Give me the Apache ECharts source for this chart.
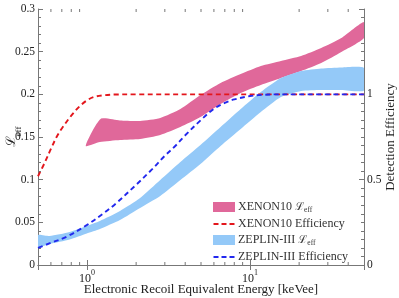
<!DOCTYPE html>
<html><head><meta charset="utf-8">
<script src="https://cdn.jsdelivr.net/npm/echarts@6/dist/echarts.min.js"></script>
<style>html,body{margin:0;padding:0;background:#fff}#c{width:399px;height:298px}</style>
</head><body><div id="c"></div>
<script>
// ---- data ----
const xenonEffE = [0.5, 0.55, 0.6, 0.65, 0.7, 0.8, 0.9, 1.0, 1.1, 1.25, 1.5, 2, 5, 20, 50];
const xenonEff  = [0.52, 0.60, 0.68, 0.75, 0.80, 0.875, 0.93, 0.965, 0.984, 0.994, 0.999, 1, 1, 1, 1];

const zeplinEffE = [0.5, 0.6, 0.75, 1.0, 1.25, 1.5, 2.0, 2.5, 3.0, 3.5, 4.0, 5.0, 6.0, 7.0, 8.0, 10, 12, 15, 20, 50];
const zeplinEff  = [0.10, 0.13, 0.166, 0.235, 0.30, 0.36, 0.47, 0.56, 0.64, 0.70, 0.76, 0.85, 0.915, 0.95, 0.97, 0.99, 0.997, 1, 1, 1];

// XENON10 Leff band edges [E (keVee), Leff]
const xenonUpper = [[1.21,0.1711],[1.592,0.1693],[2.115,0.1688],[2.811,0.1723],[3.735,0.1828],[4.963,0.1992],[6.594,0.2133],[8.762,0.2238],[11.64,0.2332],[15.47,0.2391],[20.56,0.2449],[27.32,0.2543],[36.3,0.2660],[50,0.2848]];
const xenonLower = [[0.982,0.1395],[1.198,0.1441],[1.592,0.1465],[2.115,0.1477],[2.811,0.1524],[3.735,0.1617],[4.963,0.1734],[6.594,0.1887],[8.762,0.2016],[11.64,0.2109],[15.47,0.2191],[20.56,0.2273],[27.32,0.2367],[36.3,0.2496],[50,0.2660]];

// ZEPLIN-III Leff band edges
const zeplinUpper = [[0.5,0.0352],[0.5886,0.0340],[0.782,0.0387],[0.996,0.0457],[1.198,0.0516],[1.592,0.0633],[2.115,0.0785],[2.811,0.0996],[3.735,0.1207],[4.963,0.1406],[6.594,0.1617],[8.762,0.1828],[11.64,0.2027],[15.47,0.2191],[20.56,0.2273],[27.32,0.2303],[36.3,0.2315],[50,0.2309]];
const zeplinLower = [[0.5,0.0211],[0.5886,0.0246],[0.782,0.0299],[0.996,0.0369],[1.198,0.0422],[1.592,0.0527],[2.115,0.0668],[2.811,0.0809],[3.735,0.0996],[4.963,0.1184],[6.594,0.1395],[8.762,0.1594],[11.64,0.1793],[15.47,0.1969],[20.56,0.2039],[27.32,0.2051],[36.3,0.2051],[50,0.2045]];

const xMinorTicks = [0.6,0.7,0.8,0.9,2,3,4,5,6,7,8,9,20,30,40];

// ---- chart ----
const SERIF = "'Liberation Serif','DejaVu Serif',serif";
const AX = '#777';
const TXT = '#222';
const PINK = '#e0689a', LBLUE = '#94c9f8', RED = '#e3161c', BLUE = '#2228ee';
const DASH_ICON = 'path://M0,0h0.01v0.01h-0.01z M0,4.1h5v1.8h-5z M8,4.1h5v1.8h-5z M16,4.1h5v1.8h-5z M0,10h0.01v-0.01h-0.01z';

function band(name, upper, lower, color) {
  const pts = upper.concat(lower.slice().reverse());
  return {
    name: name, type: 'custom', xAxisIndex: 0, yAxisIndex: 0, clip: true, z: 2,
    itemStyle: {color: color},
    data: [pts[0]],
    renderItem: function (params, api) {
      return {type: 'polygon', shape: {points: pts.map(p => api.coord(p)), smooth: 0.2}, style: {fill: color}};
    }
  };
}
function effLine(name, xs, ys, color) {
  return {
    name: name, type: 'line', xAxisIndex: 0, yAxisIndex: 1, z: 5,
    data: xs.map((x, i) => [x, ys[i]]),
    showSymbol: false, symbol: 'none', smooth: 0.35,
    itemStyle: {color: color},
    lineStyle: {color: color, width: 1.9, type: [5, 3.5]}
  };
}
const supRich = {
  b: {fontFamily: SERIF, fontSize: 12, color: TXT, lineHeight: 16, verticalAlign: 'bottom'},
  s: {fontFamily: SERIF, fontSize: 8, color: TXT, verticalAlign: 'top', lineHeight: 16}
};

const chart = echarts.init(document.getElementById('c'));
chart.setOption({
  animation: false,
  backgroundColor: '#fff',
  grid: {left: 38, right: 35, top: 9, bottom: 33, containLabel: false, outerBoundsMode: 'none'},
  xAxis: [{
    type: 'log', logBase: 10, min: 0.5, max: 50, position: 'bottom',
    axisLine: {show: true, lineStyle: {color: AX, width: 1}},
    axisTick: {show: true, inside: true, length: 5, lineStyle: {color: AX}},
    minorTick: {show: false}, splitLine: {show: false},
    axisLabel: {
      margin: 4, color: TXT,
      formatter: function (v) {
        if (Math.abs(v - 1) < 1e-6) return '{b|10}{s|0}';
        if (Math.abs(v - 10) < 1e-5) return '{b|10}{s|1}';
        return '';
      },
      rich: supRich
    },
    name: 'Electronic Recoil Equivalent Energy [keVee]', nameLocation: 'middle', nameGap: 18,
    nameMoveOverlap: false,
    nameTextStyle: {fontFamily: SERIF, fontSize: 13, color: TXT}
  }, {
    type: 'log', logBase: 10, min: 0.5, max: 50, position: 'top',
    axisLine: {show: true, lineStyle: {color: AX, width: 1}},
    axisTick: {show: true, inside: true, length: 5, lineStyle: {color: AX}},
    axisLabel: {show: false}, splitLine: {show: false}
  }],
  yAxis: [{
    type: 'value', min: 0, max: 0.3, interval: 0.05, position: 'left',
    axisLine: {show: true, lineStyle: {color: AX, width: 1}},
    axisTick: {show: true, inside: true, length: 5, lineStyle: {color: AX}},
    minorTick: {show: true, splitNumber: 5, length: 3, lineStyle: {color: AX}},
    splitLine: {show: false},
    axisLabel: {fontFamily: SERIF, fontSize: 11.5, color: TXT, margin: 3},
    name: '{l|ℒ}{s|eff}', nameLocation: 'middle', nameRotate: 90, nameGap: 15,
    nameMoveOverlap: false,
    nameTextStyle: {
      rich: {
        l: {fontFamily: "'DejaVu Serif',serif", fontSize: 13, color: TXT, lineHeight: 18, verticalAlign: 'top'},
        s: {fontFamily: SERIF, fontSize: 9, color: TXT, lineHeight: 18, verticalAlign: 'bottom'}
      }
    }
  }, {
    type: 'value', min: 0, max: 1.5, interval: 0.5, position: 'right',
    axisLine: {show: true, lineStyle: {color: AX, width: 1}},
    axisTick: {show: true, inside: true, length: 5, lineStyle: {color: AX}},
    minorTick: {show: true, splitNumber: 10, length: 3, lineStyle: {color: AX}},
    splitLine: {show: false},
    axisLabel: {fontFamily: SERIF, fontSize: 11.5, color: TXT, margin: 3, showMaxLabel: false,
      formatter: v => (v > 1.4 ? '' : String(v))},
    name: 'Detection Efficiency', nameLocation: 'middle', nameRotate: 90, nameGap: 20,
    nameMoveOverlap: false,
    nameTextStyle: {fontFamily: SERIF, fontSize: 13, color: TXT}
  }],
  legend: {
    orient: 'vertical', left: 213, top: 201, itemWidth: 22, itemHeight: 10, itemGap: 4,
    padding: 0,
    data: [
      {name: 'XENON10 Leff', icon: 'rect'},
      {name: 'XENON10 Efficiency', icon: DASH_ICON},
      {name: 'ZEPLIN-III Leff', icon: 'rect'},
      {name: 'ZEPLIN-III Efficiency', icon: DASH_ICON}
    ],
    formatter: function (n) {
      if (n.endsWith('Leff')) return '{t|' + n.slice(0, -4) + '}{l|ℒ}{s|eff}';
      return '{t|' + n + '}';
    },
    textStyle: {
      fontFamily: SERIF, fontSize: 12, color: '#333', padding: [0, 0, 0, -2],
      rich: {
        t: {fontFamily: SERIF, fontSize: 12, color: '#333', lineHeight: 14},
        l: {fontFamily: "'DejaVu Serif',serif", fontSize: 11, color: '#333', lineHeight: 14},
        s: {fontFamily: SERIF, fontSize: 7.5, color: '#333', lineHeight: 14, verticalAlign: 'bottom'}
      }
    }
  },
  series: [
    band('XENON10 Leff', xenonUpper, xenonLower, PINK),
    band('ZEPLIN-III Leff', zeplinUpper, zeplinLower, LBLUE),
    effLine('XENON10 Efficiency', xenonEffE, xenonEff, RED),
    effLine('ZEPLIN-III Efficiency', zeplinEffE, zeplinEff, BLUE),
    {
      type: 'custom', name: 'minorTicks', silent: true, xAxisIndex: 0, yAxisIndex: 0, z: 10,
      data: xMinorTicks.map(v => [v, 0]),
      renderItem: function (params, api) {
        const v = api.value(0);
        const b = api.coord([v, 0]);
        const t = api.coord([v, 0.3]);
        const st = {stroke: AX, lineWidth: 1};
        return {type: 'group', children: [
          {type: 'line', shape: {x1: b[0], y1: b[1], x2: b[0], y2: b[1] - 3}, style: st},
          {type: 'line', shape: {x1: t[0], y1: t[1], x2: t[0], y2: t[1] + 3}, style: st}
        ]};
      }
    }
  ]
});
</script>
</body></html>
